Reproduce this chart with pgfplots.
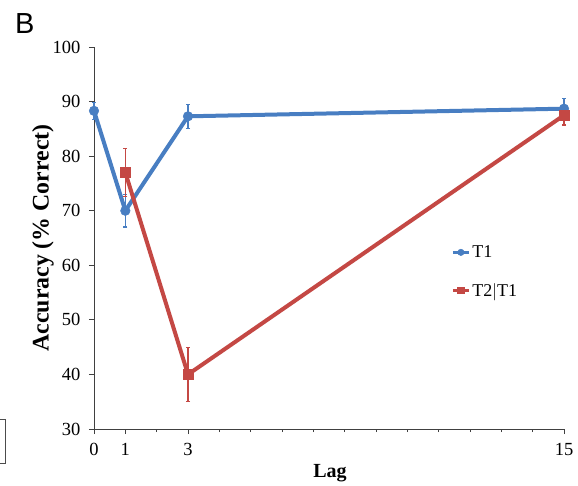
\documentclass[border=0pt]{standalone}
\usepackage{pgfplots}
\pgfplotsset{compat=1.18}
\usepackage{fontspec}
\setmainfont{Liberation Serif}
\newfontfamily\sansB{Liberation Sans}
\definecolor{tblue}{RGB}{72,126,194}
\definecolor{tred}{RGB}{196,72,68}
\begin{document}
\begin{tikzpicture}[x=1pt,y=1pt]
\useasboundingbox (-94,-56) rectangle (484,429);
\begin{axis}[
  at={(0,0)}, anchor=origin,
  scale only axis, width=470pt, height=382pt,
  xmin=0, xmax=15, ymin=30, ymax=100,
  axis x line*=bottom, axis y line*=left,
  axis line style={black!75, line width=0.9pt},
  xtick={0,1,3,15}, minor xtick={2,4,5,6,7,8,9,10,11,12,13,14},
  ytick={30,40,...,100},
  tick align=outside, tick style={black!75, line width=0.9pt},
  major tick length=5pt, minor tick length=3pt,
  /pgf/number format/assume math mode=true,
  every tick label/.append style={font=\fontsize{18.5}{21}\selectfont},
  xticklabel style={anchor=north, yshift=-6pt},
  yticklabel style={anchor=east, xshift=-5pt},
  xlabel={\textbf{Lag}}, ylabel={\textbf{Accuracy (\% Correct)}},
  xlabel style={font=\fontsize{20}{22}\selectfont, at={(axis description cs:0.502,0)}, anchor=center, yshift=-44pt},
  ylabel style={font=\fontsize{23.8}{26}\selectfont, at={(axis description cs:0,0.5)}, anchor=center, yshift=51pt},
  legend style={at={(axis cs:11.4,64)}, anchor=north west, draw=none, fill=none,
    font=\fontsize{18}{20}\selectfont, row sep=20pt,
    legend cell align=left, inner sep=0pt},
  legend image code/.code={\draw[#1, line width=3pt] (0pt,0pt) -- (16pt,0pt); \draw[#1, mark size=3.2pt] plot coordinates {(8pt,0pt)};},
  clip=false,
]
\addplot[color=tblue, line width=4pt, mark=*, mark size=4.8pt, mark options={solid, line width=0.5pt, fill=tblue},
  error bars/.cd, y dir=both, y explicit, error bar style={line width=1.2pt, color=tblue}, error mark options={rotate=90, mark size=2pt, line width=1.2pt, color=tblue}]
  coordinates {(0,88.3) +- (0,1.6) (1,70) +- (0,3) (3,87.3) +- (0,2.2) (15,88.7) +- (0,1.8)};
\addlegendentry{T1}
\addplot[color=tred, line width=4pt, mark=square*, mark size=4.8pt, mark options={solid, line width=0.5pt, fill=tred},
  error bars/.cd, y dir=both, y explicit, error bar style={line width=1.2pt, color=tred}, error mark options={rotate=90, mark size=2pt, line width=1.2pt, color=tred}]
  coordinates {(1,77) +- (0,4.4) (3,40) +- (0,4.9) (15,87.5) +- (0,1.8)};
\addlegendentry{T2$|$T1}
\end{axis}
\node[anchor=north west, inner sep=0pt, font=\sansB\fontsize{29}{30}\selectfont] at (-79,416) {B};
\draw[black!70, line width=0.8pt] (-100,10) -- (-89,10) -- (-89,-34) -- (-100,-34);
\end{tikzpicture}
\end{document}
